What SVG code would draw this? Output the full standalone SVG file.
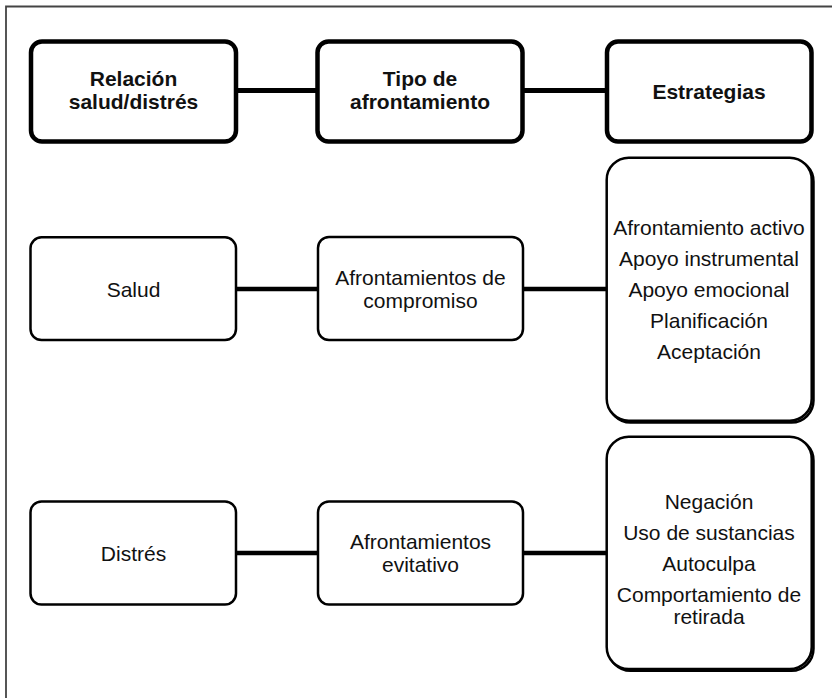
<svg xmlns="http://www.w3.org/2000/svg" width="832" height="698" viewBox="0 0 832 698">
<style>
.hdr rect{fill:#fff;stroke:#000;stroke-width:4.5}
.nd rect{fill:#fff;stroke:#000;stroke-width:2.5}
.sh{fill:none;stroke:#9a9a9a;stroke-width:2}
text{font-family:"Liberation Sans",Arial,sans-serif;font-size:21px;fill:#111;text-anchor:middle}
.hdr text{font-weight:bold}
#connectors line{stroke:#000}
</style>
<rect width="832" height="698" fill="#fff"/>
<path d="M6,698 V6.5 H832" fill="none" stroke="#444" stroke-width="1.8"/>
<g id="connectors">
<line x1="236" y1="90.5" x2="317.5" y2="90.5" stroke-width="5"/>
<line x1="522.5" y1="90.5" x2="607" y2="90.5" stroke-width="5"/>
<line x1="236" y1="289" x2="318" y2="289" stroke-width="4.5"/>
<line x1="523" y1="289" x2="606.5" y2="289" stroke-width="4.5"/>
<line x1="236" y1="553" x2="318" y2="553" stroke-width="4.5"/>
<line x1="523" y1="553" x2="606.5" y2="553" stroke-width="4.5"/>
</g>
<g id="n-relacion" class="hdr"><rect x="31" y="41.5" width="205" height="100" rx="11"/><text x="133.5" y="86">Relación</text><text x="133.5" y="109">salud/distrés</text></g>
<g id="n-tipo" class="hdr"><rect x="317.5" y="41.5" width="205" height="100" rx="11"/><text x="420" y="86">Tipo de</text><text x="420" y="109">afrontamiento</text></g>
<g id="n-estrategias" class="hdr"><rect x="607" y="41.5" width="204.5" height="100" rx="11"/><text x="709" y="98.5">Estrategias</text></g>
<g id="n-salud" class="nd"><rect x="30.5" y="237.3" width="205.5" height="102.7" rx="11"/><text x="133.5" y="296.5">Salud</text></g>
<g id="n-compromiso" class="nd"><rect x="318" y="237" width="205" height="103" rx="11"/><text x="420.5" y="284.5">Afrontamientos de</text><text x="420.5" y="307.5">compromiso</text></g>
<g id="n-estr-salud" class="nd"><rect class="sh" x="608.5" y="159.5" width="205" height="263" rx="22"/><rect x="606.7" y="157.7" width="205" height="263" rx="22"/><text x="709" y="234.5">Afrontamiento activo</text><text x="709" y="265.5">Apoyo instrumental</text><text x="709" y="296.5">Apoyo emocional</text><text x="709" y="327.5">Planificación</text><text x="709" y="358.5">Aceptación</text></g>
<g id="n-distres" class="nd"><rect x="30.5" y="501.5" width="205.5" height="103" rx="11"/><text x="133.5" y="560.5">Distrés</text></g>
<g id="n-evitativo" class="nd"><rect x="318" y="501.5" width="205" height="103" rx="11"/><text x="420.5" y="548.5">Afrontamientos</text><text x="420.5" y="571.5">evitativo</text></g>
<g id="n-estr-distres" class="nd"><rect class="sh" x="608.5" y="438.5" width="205" height="232.3" rx="22"/><rect x="606.7" y="436.7" width="205" height="232.3" rx="22"/><text x="709" y="508.5">Negación</text><text x="709" y="539.5">Uso de sustancias</text><text x="709" y="570.5">Autoculpa</text><text x="709" y="601.5">Comportamiento de</text><text x="709" y="623.5">retirada</text></g>
</svg>
